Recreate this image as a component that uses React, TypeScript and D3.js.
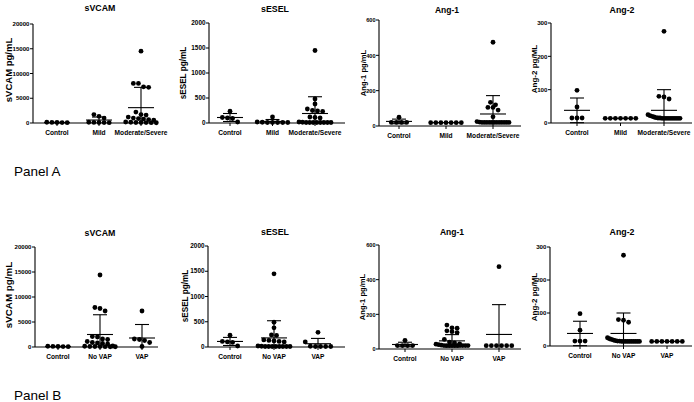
import React from "react";
import * as d3 from "d3";

// ---------- Data ----------
const groupsA = ["Control", "Mild", "Moderate/Severe"];
const groupsB = ["Control", "No VAP", "VAP"];

const ticksVCAM = [0, 5000, 10000, 15000, 20000];
const ticksESEL = [0, 500, 1000, 1500, 2000];
const ticksAng1 = [0, 200, 400, 600];
const ticksAng2 = [0, 100, 200, 300];

// Panel A values
const vcamA = [
  [150, 100, 80, 120, 60],
  [1700, 1350, 1000, 150, 120, 100, 80, 60],
  [14500, 8000, 8000, 7300, 7200, 2200, 1700, 1600, 1200, 1000, 900, 800, 700, 600, 200, 150, 100, 100, 80, 60, 50],
];
const vcamAMean = [100, 600, 3100];
const vcamASd = [50, 600, 4100];

const eselA = [
  [235, 110, 100, 90, 20],
  [120, 20, 15, 10, 10, 10, 10, 10],
  [1450, 480, 380, 280, 250, 240, 230, 120, 110, 100, 20, 15, 10, 10, 10, 10, 10, 10, 10, 10],
];
const eselAMean = [110, 30, 190];
const eselASd = [80, 40, 335];

const ang1A = [
  [50, 20, 20, 20, 20],
  [19, 19, 19, 19, 19, 19, 19],
  [474, 134, 120, 105, 105, 90, 52, 25, 22, 20, 20, 20, 20, 20, 20, 20, 20, 20, 20, 20, 20],
];
const ang1AMean = [26, 19, 68];
const ang1ASd = [13, 0, 104];

const ang2A = [
  [98, 48, 15, 15, 15],
  [14, 14, 14, 14, 14, 14, 14],
  [275, 80, 78, 72, 25, 22, 20, 18, 16, 15, 15, 14, 14, 14, 14, 14, 14, 14, 14, 14, 14],
];
const ang2AMean = [38, 14, 38];
const ang2ASd = [37, 0, 62];

// Panel B values
const vcamB = [
  [150, 100, 80, 120, 60],
  [14400, 7900, 7700, 7200, 2100, 2000, 1600, 1500, 1100, 900, 800, 700, 600, 200, 150, 100, 100, 80, 60, 50, 50],
  [7200, 1600, 1500, 1300, 900, 100],
];
const vcamBMean = [100, 2500, 1800];
const vcamBSd = [50, 3950, 2700];

const eselB = [
  [235, 110, 100, 90, 20],
  [1450, 490, 380, 240, 230, 140, 130, 120, 110, 100, 20, 15, 10, 10, 10, 10, 10, 10, 10, 10],
  [290, 100, 15, 10, 10, 10, 10],
];
const eselBMean = [110, 180, 65];
const eselBSd = [80, 340, 105];

const ang1B = [
  [50, 20, 20, 20, 20],
  [138, 122, 120, 105, 100, 95, 55, 40, 35, 30, 28, 25, 22, 20, 20, 20, 20, 20, 20, 20, 20, 20, 20],
  [475, 19, 19, 19, 19, 19, 19],
];
const ang1BMean = [26, 47, 84];
const ang1BSd = [13, 36, 172];

const ang2B = [
  [98, 48, 15, 15, 15],
  [275, 80, 78, 72, 25, 22, 20, 18, 16, 15, 15, 14, 14, 14, 14, 14, 14, 14, 14, 14, 14],
  [14, 14, 14, 14, 14, 14, 14],
];
const ang2BMean = [38, 38, 14];
const ang2BSd = [37, 62, 0];

const titles = ["sVCAM", "sESEL", "Ang-1", "Ang-2"];
const yLabels = ["sVCAM pg/mL", "sESEL pg/mL", "Ang-1 pg/mL", "Ang-2 pg/ML"];

// ---------- Layout ----------
type Layout = {
  axisX: number; axisEnd: number; yTop: number; y0: number;
  c0: number; c2: number; titleX: number; titleY: number;
  labX: number; labY: number; labSize: number; titleSize: number; tickSize: number;
};

const layoutA: Layout[] = [
  { axisX: 33, axisEnd: 158, yTop: 24, y0: 123, c0: 57, c2: 141, titleX: 100, titleY: 11, labX: 11.5, labY: 70, labSize: 9.5, titleSize: 8.8, tickSize: 6.1 },
  { axisX: 209, axisEnd: 345, yTop: 23, y0: 123, c0: 230, c2: 315, titleX: 275, titleY: 12, labX: 186, labY: 73, labSize: 8.2, titleSize: 8.8, tickSize: 6.4 },
  { axisX: 379, axisEnd: 521, yTop: 20, y0: 126, c0: 399, c2: 493, titleX: 447, titleY: 13, labX: 366, labY: 73, labSize: 7.6, titleSize: 8.5, tickSize: 5.6 },
  { axisX: 551, axisEnd: 692, yTop: 23, y0: 123, c0: 577, c2: 664, titleX: 622, titleY: 13, labX: 536.5, labY: 69, labSize: 8, titleSize: 8.8, tickSize: 6.2 },
];
const layoutB: Layout[] = [
  { axisX: 35, axisEnd: 158, yTop: 247, y0: 347, c0: 58, c2: 142, titleX: 100, titleY: 236, labX: 12, labY: 295, labSize: 9.8, titleSize: 8.8, tickSize: 6.1 },
  { axisX: 208, axisEnd: 345, yTop: 246, y0: 347, c0: 230, c2: 318, titleX: 275, titleY: 235, labX: 188, labY: 296, labSize: 8.2, titleSize: 8.8, tickSize: 6.4 },
  { axisX: 379, axisEnd: 521, yTop: 245, y0: 349, c0: 405, c2: 499, titleX: 452, titleY: 235, labX: 364.5, labY: 297, labSize: 7.6, titleSize: 8.5, tickSize: 5.6 },
  { axisX: 550, axisEnd: 692, yTop: 247, y0: 346, c0: 580, c2: 667, titleX: 622, titleY: 235, labX: 536.5, labY: 297, labSize: 8, titleSize: 8.8, tickSize: 6.2 },
];

const R = 2.4;

function swarm(vals: number[], y: (v: number) => number) {
  const sorted = [...vals].sort((a, b) => b - a);
  const bins: number[][] = [];
  for (const v of sorted) {
    const last = bins[bins.length - 1];
    if (last && Math.abs(y(v) - y(last[0])) < 2 * R * 0.95) last.push(v);
    else bins.push([v]);
  }
  const out: { v: number; dx: number }[] = [];
  for (const b of bins) {
    const n = b.length;
    const sp = n > 1 ? Math.min(2 * R + 0.3, 32 / (n - 1)) : 0;
    b.forEach((v, i) => out.push({ v, dx: (i - (n - 1) / 2) * sp }));
  }
  return out;
}

function Panel({ lay, ticks, groups, values, means, sds, title, yLabel }: {
  lay: Layout; ticks: number[]; groups: string[]; values: number[][];
  means: number[]; sds: number[]; title: string; yLabel: string;
}) {
  const y = d3.scaleLinear().domain([0, ticks[ticks.length - 1]]).range([lay.y0, lay.yTop]);
  const x = d3.scalePoint<string>().domain(groups).range([lay.c0, lay.c2]);
  return (
    <g fontFamily="Arial, 'Liberation Sans', sans-serif" fill="#000">
      <text x={lay.titleX} y={lay.titleY} textAnchor="middle" fontWeight="bold" fontSize={lay.titleSize}>{title}</text>
      <text transform={`translate(${lay.labX},${lay.labY}) rotate(-90)`} textAnchor="middle" fontWeight="bold" fontSize={lay.labSize}>{yLabel}</text>
      <line x1={lay.axisX} x2={lay.axisX} y1={lay.yTop} y2={lay.y0} stroke="#000" strokeWidth={1.1} />
      <line x1={lay.axisX} x2={lay.axisEnd} y1={lay.y0} y2={lay.y0} stroke="#000" strokeWidth={1.1} />
      {ticks.map((t) => (
        <g key={t}>
          <line x1={lay.axisX - 3} x2={lay.axisX} y1={y(t)} y2={y(t)} stroke="#000" strokeWidth={1} />
          <text x={lay.axisX - 3.5} y={y(t) + 2.2} textAnchor="end" fontSize={lay.tickSize} fontWeight="bold">{String(t)}</text>
        </g>
      ))}
      {groups.map((g) => (
        <g key={g}>
          <line x1={x(g)!} x2={x(g)!} y1={lay.y0} y2={lay.y0 + 3} stroke="#000" strokeWidth={1} />
          <text x={x(g)!} y={lay.y0 + 11.5} textAnchor="middle" fontSize={6.6} fontWeight="bold">{g}</text>
        </g>
      ))}
      {groups.map((g, gi) => {
        const cx = x(g)!;
        const m = means[gi], s = sds[gi];
        const top = y(m + s), bot = y(Math.max(0, m - s));
        return (
          <g key={"e" + g} stroke="#000" strokeWidth={1.1}>
            {s > 0 && <line x1={cx} x2={cx} y1={top} y2={bot} />}
            {s > 0 && <line x1={cx - 7} x2={cx + 7} y1={top} y2={top} />}
            {s > 0 && m - s > 0 && <line x1={cx - 7} x2={cx + 7} y1={bot} y2={bot} />}
            <line x1={cx - 13} x2={cx + 13} y1={y(m)} y2={y(m)} />
          </g>
        );
      })}
      {groups.map((g, gi) =>
        swarm(values[gi], y).map((p, i) => (
          <circle key={g + i} cx={x(g)! + p.dx} cy={y(p.v)} r={R} fill="#000" />
        ))
      )}
    </g>
  );
}

export default function App() {
  const panelsA = [
    { values: vcamA, means: vcamAMean, sds: vcamASd, ticks: ticksVCAM },
    { values: eselA, means: eselAMean, sds: eselASd, ticks: ticksESEL },
    { values: ang1A, means: ang1AMean, sds: ang1ASd, ticks: ticksAng1 },
    { values: ang2A, means: ang2AMean, sds: ang2ASd, ticks: ticksAng2 },
  ];
  const panelsB = [
    { values: vcamB, means: vcamBMean, sds: vcamBSd, ticks: ticksVCAM },
    { values: eselB, means: eselBMean, sds: eselBSd, ticks: ticksESEL },
    { values: ang1B, means: ang1BMean, sds: ang1BSd, ticks: ticksAng1 },
    { values: ang2B, means: ang2BMean, sds: ang2BSd, ticks: ticksAng2 },
  ];
  return (
    <svg width={694} height={402} style={{ position: "absolute", left: 0, top: 0, background: "#fff" }}>
      <rect width={694} height={402} fill="#fff" />
      {panelsA.map((p, i) => (
        <Panel key={"a" + i} lay={layoutA[i]} ticks={p.ticks} groups={groupsA} values={p.values}
          means={p.means} sds={p.sds} title={titles[i]} yLabel={yLabels[i]} />
      ))}
      {panelsB.map((p, i) => (
        <Panel key={"b" + i} lay={layoutB[i]} ticks={p.ticks} groups={groupsB} values={p.values}
          means={p.means} sds={p.sds} title={titles[i]} yLabel={yLabels[i]} />
      ))}
      <text x={14} y={176} fontFamily="Arial, 'Liberation Sans', sans-serif" fontSize={13.5}>Panel A</text>
      <text x={14} y={400} fontFamily="Arial, 'Liberation Sans', sans-serif" fontSize={13.5}>Panel B</text>
    </svg>
  );
}
